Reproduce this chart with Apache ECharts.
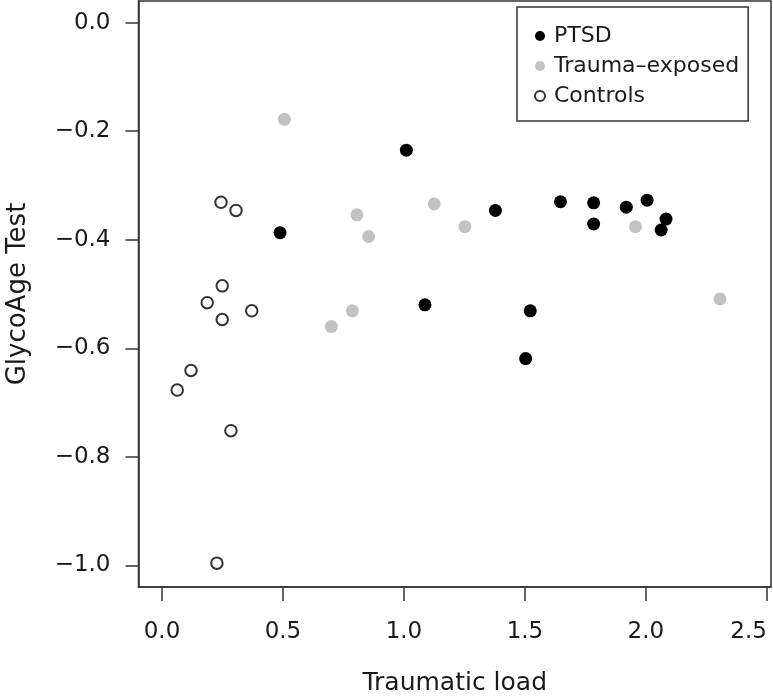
<!DOCTYPE html>
<html>
<head>
<meta charset="utf-8">
<script src="https://cdn.jsdelivr.net/npm/echarts@6/dist/echarts.min.js"></script>
<style>
html,body{margin:0;padding:0;background:#fff;}
#chart{width:773px;height:699px;}
</style>
</head>
<body>
<div id="chart"></div>
<script>
// ---- data ----
var ptsdX = [0.488, 1.01, 1.087, 1.378, 1.503, 1.522, 1.647, 1.784, 1.784, 1.919, 2.005, 2.063, 2.083];
var ptsdY = [-0.387, -0.235, -0.52, -0.346, -0.619, -0.531, -0.330, -0.332, -0.371, -0.340, -0.327, -0.382, -0.362];
var traumaX = [0.506, 0.70, 0.787, 0.806, 0.854, 1.125, 1.252, 1.957, 2.306];
var traumaY = [-0.178, -0.56, -0.531, -0.354, -0.394, -0.334, -0.376, -0.376, -0.509];
var controlX = [0.244, 0.306, 0.249, 0.187, 0.249, 0.371, 0.063, 0.12, 0.285, 0.227];
var controlY = [-0.331, -0.346, -0.485, -0.516, -0.547, -0.531, -0.677, -0.641, -0.752, -0.996];
var xTicks = [0, 0.5, 1.0, 1.5, 2.0, 2.5];
var yTicks = [0, -0.2, -0.4, -0.6, -0.8, -1.0];
var seriesNames = ['PTSD', 'Trauma\u2013exposed', 'Controls'];
var xTitle = 'Traumatic load';
var yTitle = 'GlycoAge Test';

function zip(xs, ys){ return xs.map(function(v,i){ return [v, ys[i]]; }); }
function fmt(v){ var s = Math.abs(v).toFixed(1); return (v < -1e-9 ? '\u2212' : '') + s; }

var FONT = 'DejaVu Sans, Liberation Sans, Arial, sans-serif';
var TXT = '#1a1a1a';
var chart = echarts.init(document.getElementById('chart'), null, {renderer:'canvas'});
chart.setOption({
  animation: false,
  backgroundColor: '#fff',
  textStyle: {fontFamily: FONT},
  grid: {left: 138.5, right: 2, top: 1, bottom: 112, outerBoundsMode: 'none', containLabel: false,
         show: true, borderColor: '#333', borderWidth: 1.5, backgroundColor: 'transparent'},
  legend: {
    orient: 'vertical', left: 517, top: 7,
    padding: [18, 9, 14, 17],
    borderColor: '#333', borderWidth: 1.5,
    itemWidth: 10, itemHeight: 10, itemGap: 8,
    textStyle: {fontSize: 22, color: TXT, fontFamily: FONT, padding: [0, 0, 0, 4]},
    data: seriesNames
  },
  xAxis: {
    type: 'value', min: -0.097, max: 2.517,
    axisLine: {show: true, onZero: false, lineStyle: {color: '#333', width: 1.5}},
    axisTick: {show: true, length: 14, customValues: xTicks, lineStyle: {color: '#333', width: 1.5}},
    axisLabel: {customValues: xTicks, margin: 34, fontSize: 23, color: TXT, fontFamily: FONT,
                formatter: fmt, overflow: 'none', hideOverlap: false, alignMaxLabel: 'right'},
    splitLine: {show: false},
    name: xTitle, nameLocation: 'middle', nameGap: 84,
    nameTextStyle: {fontSize: 25, color: TXT, fontFamily: FONT}
  },
  yAxis: {
    type: 'value', min: -1.04, max: 0.04,
    axisLine: {show: true, onZero: false, lineStyle: {color: '#333', width: 1.5}},
    axisTick: {show: true, length: 13, customValues: yTicks, lineStyle: {color: '#333', width: 1.5}},
    axisLabel: {customValues: yTicks, margin: 28, fontSize: 23, color: TXT, fontFamily: FONT, formatter: fmt},
    splitLine: {show: false},
    name: yTitle, nameLocation: 'middle', nameGap: 107, nameRotate: 90,
    nameTextStyle: {fontSize: 26, color: TXT, fontFamily: FONT}
  },
  series: [
    {name: seriesNames[0], type: 'scatter', symbol: 'circle', symbolSize: 13,
     itemStyle: {color: '#000', opacity: 1}, data: zip(ptsdX, ptsdY)},
    {name: seriesNames[1], type: 'scatter', symbol: 'circle', symbolSize: 13,
     itemStyle: {color: '#c2c2c2', opacity: 1}, data: zip(traumaX, traumaY)},
    {name: seriesNames[2], type: 'scatter', symbol: 'circle', symbolSize: 11.5,
     itemStyle: {color: '#fff', borderColor: '#333', borderWidth: 2, opacity: 1}, data: zip(controlX, controlY)}
  ]
});
</script>
</body>
</html>
